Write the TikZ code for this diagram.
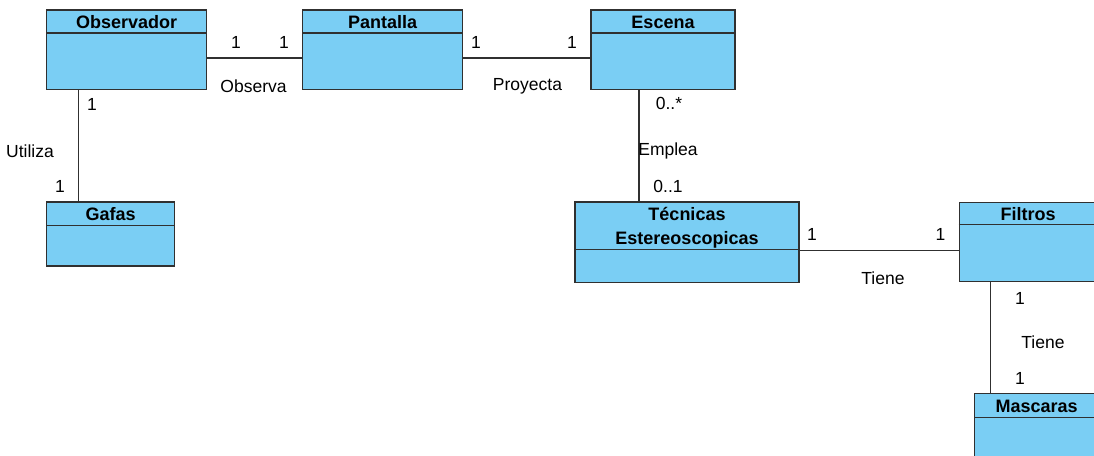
\documentclass[tikz,border=0pt]{standalone}
\usepackage{fontspec}
\setmainfont{Liberation Sans}
\usetikzlibrary{calc}
\definecolor{clsfill}{RGB}{122,206,244}
\definecolor{clsline}{RGB}{48,48,48}
\begin{document}
\begin{tikzpicture}[x=1pt,y=-1pt,
  cls/.style={draw=clsline,fill=clsfill,line width=1.3pt,rectangle,inner sep=0pt},
  ttl/.style={font=\fontsize{18}{24}\selectfont\bfseries,align=center,inner sep=0pt},
  lbl/.style={font=\fontsize{17.5}{21}\selectfont,inner sep=0pt},
  assoc/.style={draw=clsline,line width=1.1pt}]
\path[use as bounding box] (0,0) rectangle (1094,455);
\clip (0,0) rectangle (1094,455);

% class boxes
\node[cls,minimum width=160pt,minimum height=79.3pt] (obs) at (126.7,49.65) {};
\node[cls,minimum width=160pt,minimum height=79.3pt] (pan) at (382.7,49.65) {};
\node[cls,minimum width=144pt,minimum height=79.3pt] (esc) at (663,49.65) {};
\node[cls,minimum width=128pt,minimum height=64pt] (gaf) at (110.7,234) {};
\node[cls,minimum width=224pt,minimum height=80.3pt] (tec) at (687,242.15) {};
\node[cls,minimum width=137.7pt,minimum height=79.4pt] (fil) at (1028.2,242) {};
\node[cls,minimum width=124.3pt,minimum height=79.4pt] (mas) at (1036.9,433) {};

% header separators
\draw[assoc,line width=1.3pt] ([yshift=-23.7pt]obs.north west) -- ([yshift=-23.7pt]obs.north east);
\draw[assoc,line width=1.3pt] ([yshift=-23.7pt]pan.north west) -- ([yshift=-23.7pt]pan.north east);
\draw[assoc,line width=1.3pt] ([yshift=-23.7pt]esc.north west) -- ([yshift=-23.7pt]esc.north east);
\draw[assoc,line width=1.3pt] ([yshift=-24pt]gaf.north west) -- ([yshift=-24pt]gaf.north east);
\draw[assoc,line width=1.3pt] ([yshift=-48.3pt]tec.north west) -- ([yshift=-48.3pt]tec.north east);
\draw[assoc,line width=1.3pt] ([yshift=-23pt]fil.north west) -- ([yshift=-23pt]fil.north east);
\draw[assoc,line width=1.3pt] ([yshift=-24.7pt]mas.north west) -- ([yshift=-24.7pt]mas.north east);

% class names
\node[ttl] (obs-t) at (126.7,22) {Observador};
\node[ttl] (pan-t) at (382.7,22) {Pantalla};
\node[ttl] (esc-t) at (663,22) {Escena};
\node[ttl] (gaf-t) at (110.7,214) {Gafas};
\node[ttl] (tec-t) at (687,228) {Técnicas\\Estereoscopicas};
\node[ttl] (fil-t) at (1028,214) {Filtros};
\node[ttl] (mas-t) at (1036.7,406) {Mascaras};

% associations
\draw[assoc] ([yshift=-8.35pt]obs.east) -- ([yshift=-8.35pt]pan.west);
\draw[assoc] ([yshift=-8.35pt]pan.east) -- ([yshift=-8.35pt]esc.west);
\draw[assoc] ([xshift=-48pt]obs.south) -- ([xshift=-48pt]obs.south |- gaf.north);
\draw[assoc] ([xshift=-24pt]esc.south) -- ([xshift=-24pt]esc.south |- tec.north);
\draw[assoc] ([yshift=-8.15pt]tec.east) -- ([yshift=-8.15pt]tec.east -| fil.west);
\draw[assoc] ([xshift=31.7pt]fil.south west) -- ([xshift=31.7pt]fil.south west |- mas.north);

% association names and multiplicities
\node[lbl] (m1) at (236,42) {1};
\node[lbl] (m2) at (284,42) {1};
\node[lbl] (a1) at (253.5,86) {Observa};
\node[lbl] (m3) at (476,42) {1};
\node[lbl] (m4) at (572,42) {1};
\node[lbl] (a2) at (527.5,86) {Proyecta};
\node[lbl] (m5) at (92,104) {1};
\node[lbl] (a3) at (30,151) {Utiliza};
\node[lbl] (m6) at (60,186) {1};
\node[lbl] (m7) at (669,103) {0..*};
\node[lbl] (a4) at (668,151) {Emplea};
\node[lbl] (m8) at (668,186) {0..1};
\node[lbl] (m9) at (812,234) {1};
\node[lbl] (m10) at (940.5,234) {1};
\node[lbl] (a5) at (883,278) {Tiene};
\node[lbl] (m11) at (1020,298) {1};
\node[lbl] (a6) at (1043,342) {Tiene};
\node[lbl] (m12) at (1020,378) {1};
\end{tikzpicture}
\end{document}
